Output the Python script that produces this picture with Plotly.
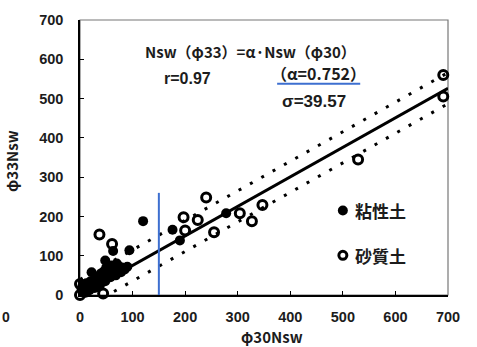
import plotly.graph_objects as go

# Nsw measured with the φ30 rod vs the φ33 rod
clay_x = [3, 5, 8, 10, 12, 15, 18, 20, 22, 25, 28, 30, 33, 35, 38, 40, 42, 45, 48, 50,
          52, 55, 58, 60, 63, 65, 68, 70, 72, 75, 78, 80, 85, 90,
          48, 63, 94, 120, 176, 190, 278]
clay_y = [15, 25, 10, 20, 30, 22, 12, 35, 58, 28, 18, 40, 32, 48, 25, 55, 42, 60, 35, 70,
          50, 62, 45, 75, 55, 68, 50, 80, 62, 72, 58, 70, 65, 72,
          88, 112, 114, 188, 166, 139, 208]

sand_x = [0, 0, 10, 30, 44, 37, 61, 197, 200, 224, 240, 255, 304, 327, 347, 529, 691, 691]
sand_y = [0, 28, 8, 35, 4, 154, 130, 198, 164, 191, 248, 160, 208, 188, 229, 345, 560, 505]

alpha = 0.752
sigma = 39.57
fit_x = [0, 700]
split_x = 150      # boundary marked in blue
split_top = 260

x_ticks = [0, 100, 200, 300, 400, 500, 600, 700]
y_ticks = [0, 100, 200, 300, 400, 500, 600, 700]

INK = "#1c1c1c"
FONT = "Liberation Sans, Arial, sans-serif"
JP = "Noto Sans CJK JP"

fig = go.Figure()

# regression line and ±σ band
fig.add_trace(go.Scatter(x=fit_x, y=[alpha * v for v in fit_x], mode="lines",
                         line=dict(color="black", width=3), showlegend=False))
for s in (1, -1):
    fig.add_trace(go.Scatter(x=fit_x, y=[alpha * v + s * sigma for v in fit_x], mode="lines",
                             line=dict(color="black", width=3, dash="3px,10px"),
                             showlegend=False))

fig.add_trace(go.Scatter(x=sand_x, y=sand_y, mode="markers", cliponaxis=False,
                         marker=dict(symbol="circle-open", size=9, color="black",
                                     line=dict(width=3, color="black")),
                         showlegend=False))
fig.add_trace(go.Scatter(x=clay_x, y=clay_y, mode="markers", cliponaxis=False,
                         marker=dict(symbol="circle", size=10, color="black"),
                         showlegend=False))

# legend drawn inside the plot
fig.add_trace(go.Scatter(x=[500], y=[215], mode="markers",
                         marker=dict(symbol="circle", size=10, color="black"), showlegend=False))
fig.add_trace(go.Scatter(x=[500], y=[101], mode="markers",
                         marker=dict(symbol="circle-open", size=8, color="black",
                                     line=dict(width=3, color="black")), showlegend=False))

annotations = [
    dict(x=520, y=215, text="粘性土", xanchor="left", font=dict(family=JP, size=17, color=INK, weight="bold")),
    dict(x=520, y=101, text="砂質土", xanchor="left", font=dict(family=JP, size=17, color=INK, weight="bold")),
    dict(x=324, y=619, text="Nsw（φ33）=α·Nsw（φ30）",
         font=dict(family=JP, size=15, color=INK, weight="bold")),
    dict(x=205, y=551, text="r=0.97", font=dict(family=FONT, size=16, color=INK, weight="bold")),
    dict(x=453, y=564, text="（α=0.752）", font=dict(family=JP, size=16, color=INK, weight="bold")),
    dict(x=445, y=493, text="σ=39.57", font=dict(family=FONT, size=17, color=INK, weight="bold")),
    dict(xref="paper", yref="paper", x=(272 - 80) / 368, y=(295 - 337) / 277, text="φ30Nsw",
         font=dict(family=JP, size=15, color=INK, weight="bold")),
    dict(xref="paper", yref="paper", x=(12 - 80) / 368, y=(295 - 160) / 277, text="φ33Nsw",
         textangle=-90, font=dict(family=JP, size=15, color=INK, weight="bold")),
    dict(xref="paper", yref="paper", x=(6 - 80) / 368, y=(295 - 317) / 277, text="0",
         font=dict(family=FONT, size=14, color=INK, weight="bold")),
]
for a in annotations:
    a.setdefault("showarrow", False)
    a.setdefault("xref", "x")
    a.setdefault("yref", "y")
    a.setdefault("xanchor", "center")
    a.setdefault("yanchor", "middle")
    fig.add_annotation(**a)

# blue markers: boundary line and underline of the α value
fig.add_shape(type="line", x0=split_x, x1=split_x, y0=0, y1=split_top,
              line=dict(color="#3d6fd0", width=2))
fig.add_shape(type="line", x0=375, x1=533, y0=538, y1=538,
              line=dict(color="#3d6fd0", width=2))
# light frame on top and right
fig.add_shape(type="rect", xref="paper", yref="paper", x0=0, x1=1, y0=0, y1=1,
              line=dict(color="#777777", width=1.2), layer="below")

axis_common = dict(showgrid=False, zeroline=False, showline=True, linecolor="black",
                   linewidth=1.5, ticks="inside", ticklen=4, tickcolor="black",
                   tickfont=dict(family=FONT, size=14.5, color=INK, weight="bold"))
fig.update_xaxes(range=[0, 700], tickvals=x_ticks, ticklabelstandoff=8, **axis_common)
fig.update_yaxes(range=[0, 700], tickvals=y_ticks, ticklabelstandoff=12, **axis_common)

fig.update_layout(width=477, height=347, margin=dict(l=80, r=29, t=18, b=52),
                  plot_bgcolor="white", paper_bgcolor="white", showlegend=False)

fig.write_html("out.html")
